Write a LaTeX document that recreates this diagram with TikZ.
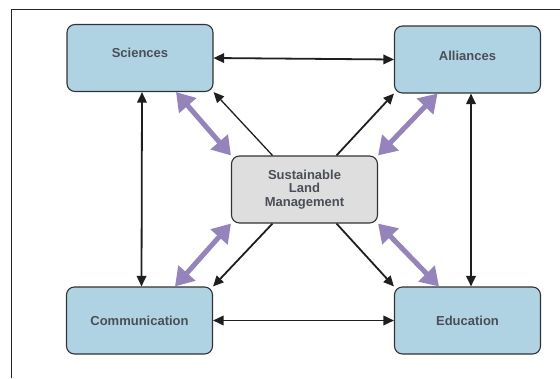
\documentclass[tikz,border=0pt]{standalone}
\usepackage{fontspec}
\setmainfont{Liberation Sans}
\usetikzlibrary{arrows.meta}
\definecolor{boxblue}{HTML}{B0D3E3}
\definecolor{boxgray}{HTML}{DEDEDE}
\definecolor{linkpurple}{HTML}{9484BB}
\definecolor{textgray}{HTML}{4A4F57}
\tikzstyle{node_topic} = [rectangle, rounded corners=8pt, draw=black!80, line width=1.1pt, fill=boxblue, minimum width=146pt, minimum height=67pt, inner sep=0pt, text=textgray, font=\fontsize{13}{13.5}\selectfont\bfseries]
\tikzstyle{node_core} = [node_topic, fill=boxgray, align=center]
\tikzstyle{edge_link} = [line width=1.8pt, draw=black!88, {Triangle[length=10.5pt,width=9.5pt]}-{Triangle[length=10.5pt,width=9.5pt]}]
\tikzstyle{edge_out} = [line width=1.8pt, draw=black!88, -{Triangle[length=10.5pt,width=9.5pt]}]
\tikzstyle{edge_wide} = [line width=5pt, draw=linkpurple, {Triangle[length=18pt,width=22pt]}-{Triangle[length=18pt,width=22pt]}]

\begin{document}
\begin{tikzpicture}[x=1pt,y=-1pt]
		\useasboundingbox (0,0) rectangle (560,378);
		\draw[line width=1pt, black!85] (11,378) -- (11,9) -- (560,9);
		
		\node (Sci) at (140,58) [node_topic] {\raisebox{5pt}[\height][\depth]{Sciences}};
		\node (All) at (467.5,59.5) [node_topic] {\raisebox{4pt}[\height][\depth]{Alliances}};
		\node (Com) at (139.5,320.5) [node_topic] {Communication};
		\node (Edu) at (467.5,320.5) [node_topic] {Education};
		\node (SLM) at (304.5,189.5) [node_core] {Sustainable\\Land\\Management};
		
		\draw[edge_link] (Sci.east) -- (All.west);
		\draw[edge_link] (Com.east) -- (Edu.west);
		\draw[edge_link] ([xshift=2pt]Sci.south) -- ([xshift=2pt]Com.north);
		\draw[edge_link] ([xshift=3.5pt]All.south) -- ([xshift=3.5pt]Edu.north);
		\draw[edge_out, line width=1.3pt] ([xshift=-32pt]SLM.north) -- (Sci.south east);
		\draw[edge_out] ([xshift=32pt]SLM.north) -- (All.south west);
		\draw[edge_out] ([xshift=-32pt]SLM.south) -- (Com.north east);
		\draw[edge_out] ([xshift=32pt]SLM.south) -- (Edu.north west);
		\draw[edge_wide] ([xshift=36pt]Sci.south) -- (SLM.north west);
		\draw[edge_wide] ([xshift=-30pt]All.south) -- (SLM.north east);
		\draw[edge_wide] ([xshift=35.5pt]Com.north) -- (SLM.south west);
		\draw[edge_wide] ([xshift=-28.5pt]Edu.north) -- (SLM.south east);
		\end{tikzpicture}
\end{document}
